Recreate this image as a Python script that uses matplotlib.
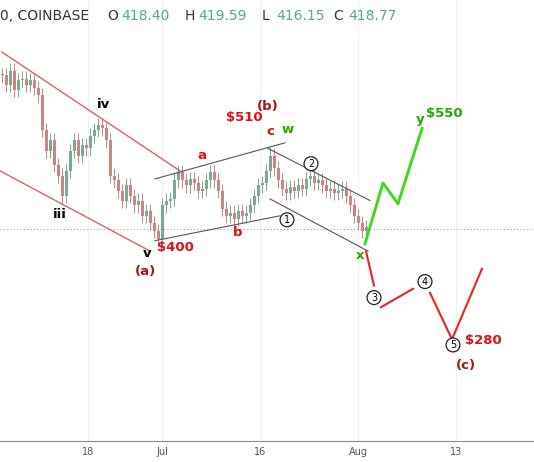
import numpy as np
import matplotlib.pyplot as plt

# closing prices, one candle per slot
closes = [610, 598, 616, 592, 604, 606, 598, 604, 594, 585, 542, 516, 529, 498, 485, 460,
          491, 516, 529, 510, 523, 519, 535, 542, 548, 544, 529, 485, 479, 466, 454, 473,
          460, 448, 454, 435, 441, 426, 416, 406, 448, 454, 456, 479, 489, 479, 473, 481,
          476, 466, 469, 479, 489, 479, 466, 444, 435, 439, 431, 441, 435, 439, 448, 460,
          473, 476, 491, 510, 494, 479, 469, 464, 471, 466, 473, 469, 481, 485, 476, 479,
          473, 466, 469, 464, 466, 469, 460, 448, 435, 426, 416, 421]

tick_pos = [22, 40.5, 65, 89.5, 114]
tick_labels = ['18', 'Jul', '16', 'Aug', '13']

# projected wave paths (slot, price)
green_x = [91.25, 95.75, 99.5, 105.5]
green_y = [400, 476, 450, 544]
red1_x, red1_y = [91.5, 93.5], [391, 348]
red2_x, red2_y = [95.25, 103.25], [321, 344]
red3_x, red3_y = [107.5, 113, 120.5], [339, 281, 369]

# trend channels: (x0, y0, x1, y1)
red_channels = [(0.5, 639, 45, 491), (0, 491, 37.5, 391)]
gray_channels = [(38.75, 481, 71.25, 526), (38.75, 404, 70, 435),
                 (67, 519, 92.5, 454), (67.5, 456, 92, 391)]

fig = plt.figure(figsize=(5.34, 4.62), dpi=100)
ax = fig.add_axes([0, 0.045, 1, 0.955])
ax.set_xlim(0, 133.5)
ax.set_ylim(154, 704)

for xv in tick_pos:
    ax.axvline(xv, color='#f0f0f0', lw=0.8, zorder=0)
ax.axhline(418.77, color='#7fb5b5', lw=0.8, ls=(0, (1, 2)), zorder=1)

prev = closes[0]
for i, c in enumerate(closes):
    o = prev
    col = '#7aa890' if c >= o else '#c98585'
    lo, hi = min(o, c), max(o, c)
    ax.vlines(i + 0.5, lo - 9, hi + 9, color=col, lw=0.7, zorder=2)
    ax.bar(i + 0.5, max(hi - lo, 2), bottom=lo, width=0.75, color=col, zorder=2)
    prev = c

for x0, y0, x1, y1 in red_channels:
    ax.plot([x0, x1], [y0, y1], color='#e06060', lw=1, zorder=3)
for x0, y0, x1, y1 in gray_channels:
    ax.plot([x0, x1], [y0, y1], color='#555555', lw=0.8, zorder=3)

ax.plot(green_x, green_y, color='#33dd11', lw=2, zorder=4)
for xs, ys in [(red1_x, red1_y), (red2_x, red2_y), (red3_x, red3_y)]:
    ax.plot(xs, ys, color='#ee2222', lw=1.5, zorder=4)

dark_red = '#aa1111'
red = '#dd1111'
green = '#22aa00'
labels = [
    (25.75, 574, 'iv', 'black'), (15, 437, 'iii', 'black'), (36.75, 388, 'v', 'black'),
    (36.25, 366, '(a)', dark_red), (43.75, 395, '$400', red), (50.5, 510, 'a', red),
    (59.5, 414, 'b', red), (61, 557, '$510', red), (67.5, 540, 'c', red),
    (67, 571, '(b)', dark_red), (72, 543, 'w', green), (90, 386, 'x', green),
    (105, 555, 'y', green), (111, 563, '$550', green), (120.75, 279, '$280', red),
    (116.5, 249, '(c)', dark_red),
]
for x, y, s, col in labels:
    ax.text(x, y, s, color=col, fontsize=9.5, fontweight='bold', ha='center', va='center', zorder=5)

circles = [(71.75, 430, '1'), (77.75, 500, '2'), (93.5, 333, '3'), (106.25, 353, '4'), (113.25, 274, '5')]
for x, y, s in circles:
    ax.text(x, y, s, fontsize=7, ha='center', va='center', zorder=6,
            bbox=dict(boxstyle='circle,pad=0.2', fc='white', ec='#222222', lw=0.9))

ax.text(0.0, 0.963, '0, COINBASE', transform=ax.transAxes, fontsize=10, color='#333333', va='center')
hdr = [(0.20, 'O', '418.40'), (0.345, 'H', '419.59'), (0.49, 'L', '416.15'), (0.625, 'C', '418.77')]
for xf, k, v in hdr:
    ax.text(xf, 0.963, k, transform=ax.transAxes, fontsize=10, color='#333333', va='center')
    ax.text(xf + 0.027, 0.963, v, transform=ax.transAxes, fontsize=10, color='#4caf7d', va='center')

ax.set_xticks(tick_pos)
ax.set_xticklabels(tick_labels, fontsize=7, color='#555555')
ax.tick_params(axis='x', length=0, pad=4)
ax.set_yticks([])
for s in ['top', 'right', 'left']:
    ax.spines[s].set_visible(False)
ax.spines['bottom'].set_color('#888888')

fig.savefig('out.png', dpi=100)
